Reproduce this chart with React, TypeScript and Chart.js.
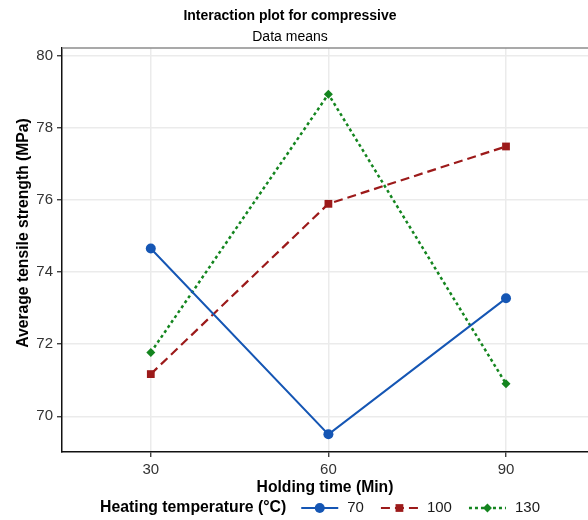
import { useEffect, useRef } from "react";
import { Chart, registerables } from "chart.js";

Chart.register(...registerables);

// ---- data ----
const holdingTimes = [30, 60, 90];
const temp70 = [74.65, 69.5, 73.27];
const temp100 = [71.17, 75.89, 77.48];
const temp130 = [71.77, 78.93, 70.9];
const seriesLabels = ["70", "100", "130"];
const xTickValues = [30, 60, 90];
const yTickValues = [70, 72, 74, 76, 78, 80];

const titleText = "Interaction plot for compressive";
const subtitleText = "Data means";
const xTitle = "Holding time (Min)";
const yTitle = "Average tensile strength (MPa)";
const legendTitle = "Heating temperature (°C)";

// ---- styles ----
const FONT = '"Liberation Sans", Arial, Helvetica, sans-serif';
const seriesStyles = [
  { color: "#1556b4", width: 2, dash: [] as number[], marker: "circle", radius: 5 },
  { color: "#9c1a1a", width: 2.2, dash: [9, 5], marker: "rect", radius: 5.5 },
  { color: "#14851f", width: 2.5, dash: [3, 3], marker: "rectRot", radius: 4.5 },
];

function drawMarker(ctx: CanvasRenderingContext2D, kind: string, x: number, y: number, r: number, color: string) {
  ctx.save();
  ctx.fillStyle = color;
  ctx.beginPath();
  if (kind === "circle") {
    ctx.arc(x, y, r, 0, Math.PI * 2);
  } else if (kind === "rect") {
    const s = r * Math.SQRT1_2;
    ctx.rect(x - s, y - s, 2 * s, 2 * s);
  } else {
    ctx.moveTo(x, y - r);
    ctx.lineTo(x + r, y);
    ctx.lineTo(x, y + r);
    ctx.lineTo(x - r, y);
    ctx.closePath();
  }
  ctx.fill();
  ctx.restore();
}

const decorPlugin = {
  id: "decor",
  afterDraw(chart: any) {
    const { ctx, chartArea: a } = chart;
    ctx.save();
    // top panel border
    ctx.strokeStyle = "#8c8c8c";
    ctx.lineWidth = 1.5;
    ctx.beginPath();
    ctx.moveTo(a.left, a.top);
    ctx.lineTo(a.right, a.top);
    ctx.stroke();

    ctx.fillStyle = "#000";
    ctx.textAlign = "center";
    ctx.textBaseline = "middle";
    ctx.font = `bold 14px ${FONT}`;
    ctx.fillText(titleText, 290, 16);
    ctx.font = `14px ${FONT}`;
    ctx.fillText(subtitleText, 290, 37);

    ctx.font = `bold 15.7px ${FONT}`;
    ctx.fillText(xTitle, (a.left + a.right) / 2, 488);
    ctx.save();
    ctx.translate(24, 233);
    ctx.rotate(-Math.PI / 2);
    ctx.fillText(yTitle, 0, 0);
    ctx.restore();

    // legend
    const ly = 508;
    ctx.textAlign = "left";
    ctx.font = `bold 15.8px ${FONT}`;
    ctx.fillText(legendTitle, 100, ly);
    let x = 100 + ctx.measureText(legendTitle).width + 15;
    ctx.font = `15px ${FONT}`;
    seriesStyles.forEach((st, i) => {
      const kw = 37;
      ctx.strokeStyle = st.color;
      ctx.lineWidth = st.width;
      ctx.setLineDash(st.dash);
      ctx.beginPath();
      ctx.moveTo(x, ly);
      ctx.lineTo(x + kw, ly);
      ctx.stroke();
      ctx.setLineDash([]);
      drawMarker(ctx, st.marker, x + kw / 2, ly, st.radius, st.color);
      ctx.fillStyle = "#1a1a1a";
      ctx.fillText(seriesLabels[i], x + kw + 9, ly);
      x += kw + 9 + ctx.measureText(seriesLabels[i]).width + 17;
    });
    ctx.restore();
  },
};

export default function App() {
  const ref = useRef<HTMLCanvasElement | null>(null);
  useEffect(() => {
    document.body.style.margin = "0";
    if (!ref.current) return;
    const values = [temp70, temp100, temp130];
    const chart = new Chart(ref.current, {
      type: "line",
      data: {
        datasets: values.map((vals, i) => ({
          label: seriesLabels[i],
          data: holdingTimes.map((t, j) => ({ x: t, y: vals[j] })),
          borderColor: seriesStyles[i].color,
          backgroundColor: seriesStyles[i].color,
          borderWidth: seriesStyles[i].width,
          borderDash: seriesStyles[i].dash,
          pointStyle: seriesStyles[i].marker as any,
          pointRadius: seriesStyles[i].radius,
          pointBorderWidth: 0,
          pointBackgroundColor: seriesStyles[i].color,
          tension: 0,
        })),
      },
      options: {
        animation: false,
        responsive: false,
        maintainAspectRatio: false,
        layout: { autoPadding: false, padding: { top: 48, left: 0, right: 0, bottom: 0 } },
        plugins: {
          legend: { display: false },
          title: { display: false },
          tooltip: { enabled: false },
        },
        scales: {
          x: {
            type: "linear",
            min: 15,
            max: 103.85,
            afterBuildTicks: (s: any) => {
              s.ticks = xTickValues.map((v) => ({ value: v }));
            },
            afterFit: (s: any) => {
              s.height = 68;
              s.paddingLeft = 0;
              s.paddingRight = 0;
            },
            grid: { color: "#ebebeb", lineWidth: 1.5, tickColor: "#222", tickLength: 5, tickWidth: 1.2 },
            border: { color: "#111", width: 1.5 },
            ticks: { font: { family: FONT, size: 15 }, color: "#333", padding: 4 },
          },
          y: {
            type: "linear",
            min: 69.01,
            max: 80.21,
            afterBuildTicks: (s: any) => {
              s.ticks = yTickValues.map((v) => ({ value: v }));
            },
            afterFit: (s: any) => {
              s.width = 62;
              s.paddingTop = 0;
              s.paddingBottom = 0;
            },
            grid: { color: "#ebebeb", lineWidth: 1.5, tickColor: "#222", tickLength: 5, tickWidth: 1.2 },
            border: { color: "#111", width: 1.5 },
            ticks: { font: { family: FONT, size: 15 }, color: "#333", padding: 4 },
          },
        },
      },
      plugins: [decorPlugin],
    });
    return () => chart.destroy();
  }, []);
  return <canvas ref={ref} width={588} height={520} style={{ display: "block" }} />;
}
